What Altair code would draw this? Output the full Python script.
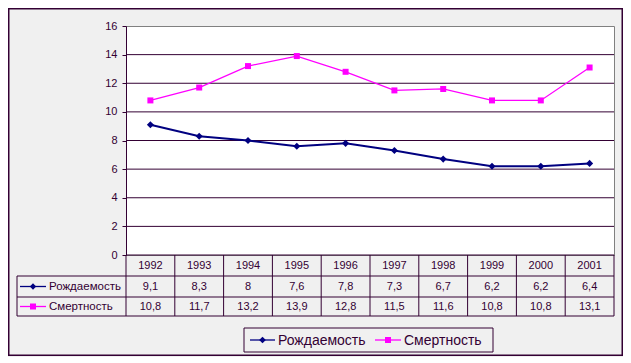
import altair as alt
import pandas as pd

# ---- data ----
years = [1992, 1993, 1994, 1995, 1996, 1997, 1998, 1999, 2000, 2001]
births = [9.1, 8.3, 8.0, 7.6, 7.8, 7.3, 6.7, 6.2, 6.2, 6.4]
deaths = [10.8, 11.7, 13.2, 13.9, 12.8, 11.5, 11.6, 10.8, 10.8, 13.1]
series_names = ["Рождаемость", "Смертность"]
y_ticks = [0, 2, 4, 6, 8, 10, 12, 14, 16]

# ---- styles ----
FONT = "Liberation Sans"
DARK = "#330033"
NAVY = "#000080"
MAG = "#FF00FF"
BG = "#F0F0F0"
W, H = 488, 229


def fmt(v):
    return f"{v:g}".replace(".", ",")


df_b = pd.DataFrame({"year": years, "value": births, "label": [fmt(v) for v in births]})
df_d = pd.DataFrame({"year": years, "value": deaths, "label": [fmt(v) for v in deaths]})
df_years = pd.DataFrame({"year": years, "label": [str(y) for y in years]})
df_bounds = pd.DataFrame({"b": [y - 0.5 for y in years] + [years[-1] + 0.5]})
df_grid = pd.DataFrame({"value": y_ticks[1:-1]})
one = alt.Data(values=[{}])

xs = alt.Scale(domain=[years[0] - 0.5, years[-1] + 0.5], nice=False, zero=False)
ys = alt.Scale(domain=[y_ticks[0], y_ticks[-1]], nice=False, zero=True)

yaxis = alt.Axis(values=y_ticks, grid=False, title=None, domainColor=DARK,
                 tickColor=DARK, tickSize=4, labelColor=DARK, labelFont=FONT,
                 labelFontSize=11, labelPadding=5)

# gridlines
grid = alt.Chart(df_grid).mark_rule(color=DARK, strokeWidth=1).encode(
    y=alt.Y("value:Q", scale=ys, axis=yaxis), x=alt.value(0), x2=alt.value(W))


def series(df, color, shape, size, sw):
    base = alt.Chart(df).encode(
        x=alt.X("year:Q", scale=xs, axis=None),
        y=alt.Y("value:Q", scale=ys, axis=yaxis))
    line = base.mark_line(color=color, strokeWidth=sw)
    pts = base.mark_point(color=color, fill=color, filled=True, shape=shape,
                          size=size, opacity=1)
    return line + pts


s_b = series(df_b, NAVY, "diamond", 50, 2)
s_d = series(df_d, MAG, "square", 36, 1.3)

# ---- data table ----
R0, R1, R2, R3 = 229, 250, 271, 290
LEFT = -109
vrules = alt.Chart(df_bounds).mark_rule(color=DARK, strokeWidth=1).encode(
    x=alt.X("b:Q", scale=xs, axis=None), y=alt.value(R0), y2=alt.value(R3))
hr = []
for yy, x0 in [(R0, 0), (R1, LEFT), (R2, LEFT), (R3, LEFT)]:
    hr.append(alt.Chart(one).mark_rule(color=DARK, strokeWidth=1).encode(
        x=alt.value(x0), x2=alt.value(W), y=alt.value(yy)))
left_rule = alt.Chart(one).mark_rule(color=DARK, strokeWidth=1).encode(
    x=alt.value(LEFT), y=alt.value(R1), y2=alt.value(R3))


def row_text(df, ymid):
    return alt.Chart(df).mark_text(font=FONT, fontSize=11, color=DARK,
                                   baseline="middle", align="center").encode(
        x=alt.X("year:Q", scale=xs, axis=None), y=alt.value(ymid), text="label:N")


t_years = row_text(df_years, (R0 + R1) / 2 + 0.5)
t_b = row_text(df_b, (R1 + R2) / 2 + 0.5)
t_d = row_text(df_d, (R2 + R3) / 2 + 0.5)


def key(name, color, shape, size, sw, lx0, lx1, ty, fs):
    d = alt.Data(values=[{"n": name}])
    ln = alt.Chart(d).mark_rule(color=color, strokeWidth=sw).encode(
        x=alt.value(lx0), x2=alt.value(lx1), y=alt.value(ty))
    pt = alt.Chart(d).mark_point(color=color, fill=color, filled=True, shape=shape,
                                 size=size, opacity=1).encode(
        x=alt.value((lx0 + lx1) / 2), y=alt.value(ty))
    tx = alt.Chart(d).mark_text(font=FONT, fontSize=fs, color=DARK, align="left",
                                baseline="middle").encode(
        x=alt.value(lx1 + 3), y=alt.value(ty + 0.5), text="n:N")
    return ln + pt + tx


k_tab_b = key(series_names[0], NAVY, "diamond", 40, 1.3, -106, -80, (R1 + R2) / 2, 11.5)
k_tab_d = key(series_names[1], MAG, "square", 36, 1.3, -106, -80, (R2 + R3) / 2, 11.5)

# legend box
LB = (118, 367, 302, 326)
legend_box = alt.Chart(one).mark_rect(fill=BG, stroke=DARK, strokeWidth=1).encode(
    x=alt.value(LB[0]), x2=alt.value(LB[1]), y=alt.value(LB[2]), y2=alt.value(LB[3]))
LY = (LB[2] + LB[3]) / 2
k_leg_b = key(series_names[0], NAVY, "diamond", 45, 1.3, 124, 149, LY, 14)
k_leg_d = key(series_names[1], MAG, "square", 36, 1.3, 249, 275, LY, 14)

# outer border
border = alt.Chart(one).mark_rect(fill=None, stroke=DARK, strokeWidth=1.5).encode(
    x=alt.value(-117.25), x2=alt.value(496.25), y=alt.value(-17.25), y2=alt.value(329.25))

chart = alt.layer(
    grid, vrules, *hr, left_rule, s_d, s_b, t_years, t_b, t_d,
    k_tab_b, k_tab_d, legend_box, k_leg_b, k_leg_d, border
).properties(
    width=W, height=H,
    autosize=alt.AutoSizeParams(type="none"),
    padding={"left": 118, "top": 18, "right": 9, "bottom": 102},
    background=BG,
).configure_view(fill="white", stroke="#808080", strokeWidth=1)

chart.save("out.html", embed_options={"renderer": "svg", "actions": False})
